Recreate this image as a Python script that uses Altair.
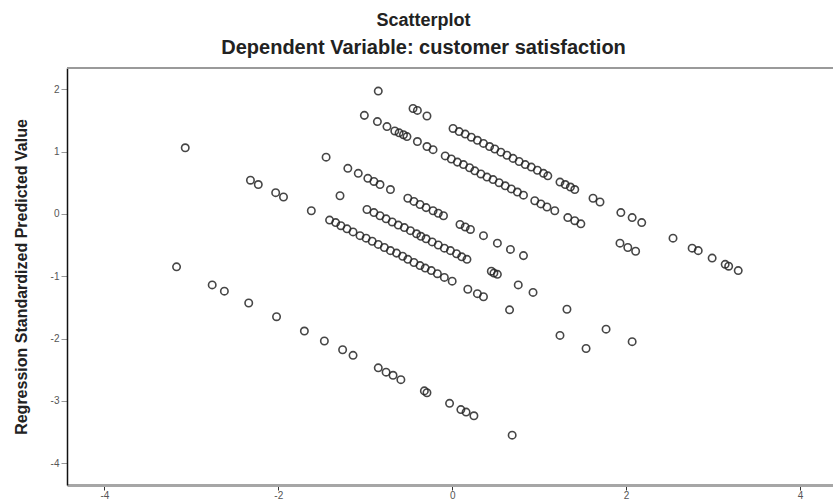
import altair as alt
import pandas as pd

# Band A (top diagonal band)
a_x = [-0.85, -0.45, -0.40, -0.29, 0.01, 0.08, 0.15, 0.22, 0.29, 0.36, 0.43, 0.49, 0.56, 0.63,
       0.70, 0.77, 0.84, 0.91, 0.98, 1.05, 1.10, 1.24, 1.30, 1.36, 1.41, 1.62, 1.70, 1.94, 2.07,
       2.18, 2.54, 2.76, 2.83, 2.99, 3.14, 3.18, 3.29]
a_y = [1.97, 1.69, 1.66, 1.57, 1.37, 1.32, 1.28, 1.23, 1.18, 1.13, 1.08, 1.04, 0.99, 0.94,
       0.89, 0.84, 0.79, 0.75, 0.70, 0.65, 0.61, 0.51, 0.47, 0.43, 0.39, 0.25, 0.19, 0.02, -0.06,
       -0.14, -0.39, -0.55, -0.59, -0.71, -0.81, -0.84, -0.91]

# Band B
b_x = [-1.01, -0.86, -0.75, -0.66, -0.61, -0.56, -0.52, -0.40, -0.29, -0.22, -0.08, -0.01, 0.06,
       0.13, 0.20, 0.26, 0.33, 0.40, 0.47, 0.54, 0.61, 0.68, 0.75, 0.82, 0.95, 1.02, 1.09, 1.18,
       1.33, 1.41, 1.48, 1.93, 2.02, 2.11]
b_y = [1.58, 1.48, 1.40, 1.33, 1.30, 1.27, 1.24, 1.16, 1.08, 1.03, 0.93, 0.88, 0.83,
       0.79, 0.74, 0.69, 0.64, 0.59, 0.55, 0.50, 0.45, 0.40, 0.35, 0.30, 0.21, 0.16, 0.11, 0.05,
       -0.06, -0.11, -0.16, -0.47, -0.54, -0.60]

# Band C
c_x = [-1.45, -1.20, -1.08, -0.97, -0.90, -0.83, -0.71, -0.51, -0.44, -0.37, -0.30, -0.22, -0.16,
       -0.10, 0.09, 0.15, 0.21, 0.36, 0.52, 0.67, 0.82]
c_y = [0.91, 0.73, 0.65, 0.57, 0.52, 0.47, 0.39, 0.25, 0.20, 0.15, 0.10, 0.05, 0.01,
       -0.03, -0.17, -0.21, -0.25, -0.35, -0.47, -0.57, -0.67]

# Band D
d_x = [-1.29, -0.98, -0.90, -0.83, -0.76, -0.69, -0.62, -0.55, -0.48, -0.41, -0.36, -0.30, -0.23,
       -0.16, -0.09, -0.02, 0.05, 0.11, 0.17, 0.45, 0.48, 0.52, 0.76, 0.93, 1.32, 1.77, 2.07]
d_y = [0.29, 0.07, 0.02, -0.03, -0.08, -0.13, -0.18, -0.22, -0.27, -0.32, -0.36, -0.40, -0.45,
       -0.50, -0.55, -0.59, -0.64, -0.69, -0.73, -0.92, -0.95, -0.97, -1.14, -1.26, -1.53, -1.85, -2.05]

# Band E
e_x = [-3.07, -2.32, -2.23, -2.03, -1.94, -1.62, -1.41, -1.34, -1.28, -1.21, -1.14, -1.06, -0.99,
       -0.92, -0.85, -0.78, -0.71, -0.64, -0.57, -0.51, -0.44, -0.37, -0.31, -0.24, -0.17, -0.09,
       0.00, 0.18, 0.29, 0.36, 0.66, 1.24, 1.54]
e_y = [1.06, 0.54, 0.47, 0.34, 0.27, 0.05, -0.10, -0.14, -0.19, -0.24, -0.29, -0.35, -0.39,
       -0.44, -0.49, -0.54, -0.59, -0.63, -0.68, -0.73, -0.78, -0.83, -0.87, -0.91, -0.96, -1.02,
       -1.08, -1.21, -1.28, -1.33, -1.54, -1.95, -2.16]

# Band G (bottom band)
g_x = [-3.17, -2.76, -2.62, -2.34, -2.02, -1.70, -1.47, -1.26, -1.14, -0.85, -0.76, -0.68, -0.59,
       -0.32, -0.29, -0.03, 0.10, 0.16, 0.25, 0.69]
g_y = [-0.85, -1.14, -1.24, -1.43, -1.65, -1.88, -2.04, -2.18, -2.27, -2.47, -2.54, -2.59, -2.66,
       -2.84, -2.87, -3.04, -3.14, -3.18, -3.24, -3.55]

x_ticks = [-4, -2, 0, 2, 4]
y_ticks = [-4, -3, -2, -1, 0, 1, 2]

xs = a_x + b_x + c_x + d_x + e_x + g_x
ys = a_y + b_y + c_y + d_y + e_y + g_y
df = pd.DataFrame({"resid": xs, "pred": ys})

W, H = 766, 417
FONT = "Liberation Sans"

points = alt.Chart(df).mark_point(
    shape="circle", filled=False, size=55, strokeWidth=1.6, color="#262626", opacity=0.85
).encode(
    x=alt.X("resid:Q", scale=alt.Scale(domain=[-4.43, 4.38], nice=False, zero=False),
            axis=alt.Axis(values=x_ticks, title=None, grid=False, domainColor="#a6a6a6",
                          domainWidth=3, tickColor="#333333", tickSize=5, tickWidth=1,
                          labelFont=FONT, labelFontSize=10, labelColor="#555555",
                          labelPadding=0, labelExpr="'' + datum.value")),
    y=alt.Y("pred:Q", scale=alt.Scale(domain=[-4.35, 2.34], nice=False, zero=False),
            axis=alt.Axis(values=y_ticks, title="Regression Standardized Predicted Value",
                          grid=False, domainColor="#111111", domainWidth=1.5,
                          tickColor="#999999", tickSize=6, tickWidth=1,
                          labelFont=FONT, labelFontSize=10, labelColor="#555555",
                          labelPadding=2, labelExpr="'' + datum.value",
                          titleFont=FONT,
                          titleFontSize=16, titleFontWeight="bold", titleColor="#222222",
                          titlePadding=21)),
)

top_border = alt.Chart(df).mark_rule(color="#9a9a9a", strokeWidth=2).encode(
    x=alt.value(0), x2=alt.value(W), y=alt.value(0)
)

chart = alt.layer(top_border, points).properties(
    width=W, height=H,
    autosize=alt.AutoSizeParams(type="none"),
    padding={"left": 67, "top": 68, "right": 0, "bottom": 17},
    title=alt.TitleParams(
        text="Scatterplot",
        subtitle="Dependent Variable: customer satisfaction",
        anchor="middle", frame="bounds",
        font=FONT, fontSize=18, fontWeight="bold", color="#222222",
        subtitleFont=FONT, subtitleFontSize=20, subtitleFontWeight="bold",
        subtitleColor="#222222", subtitlePadding=8, offset=9,
    ),
).configure_view(
    fill="#f0f0f0", stroke=None
).configure(background="white")

chart.save("out.html", embed_options={"renderer": "svg", "actions": False})
